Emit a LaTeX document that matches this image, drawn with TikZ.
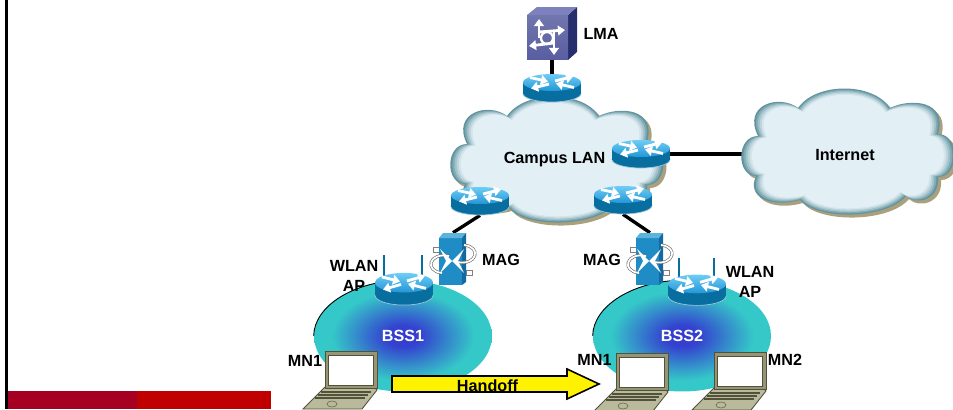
\documentclass[tikz,border=0pt]{standalone}
\usepackage{fontspec}
\setmainfont{Liberation Sans}
\usetikzlibrary{arrows.meta, calc, positioning, shapes.geometric, backgrounds}
\definecolor{barleft}{RGB}{165,0,33}
\definecolor{barright}{RGB}{192,0,0}
\definecolor{cloudedge}{RGB}{98,148,160}
\definecolor{cloudpale}{RGB}{226,239,245}
\definecolor{cloudshadow}{RGB}{170,160,125}
\definecolor{routertop}{RGB}{35,150,215}
\definecolor{routerrim}{RGB}{110,205,245}
\definecolor{routerside}{RGB}{8,110,160}
\definecolor{magfront}{RGB}{32,140,198}
\definecolor{magside}{RGB}{22,105,160}
\definecolor{magtop}{RGB}{90,180,220}
\definecolor{lmafront}{RGB}{88,94,160}
\definecolor{lmatop}{RGB}{125,130,190}
\definecolor{lmaside}{RGB}{38,46,110}
\definecolor{bsscentre}{RGB}{52,56,208}
\definecolor{bssedge}{RGB}{53,200,200}
\definecolor{lapframe}{RGB}{150,150,118}
\definecolor{lapdark}{RGB}{82,82,58}
\definecolor{lapbase}{RGB}{185,185,155}
\pgfdeclareradialshading{bssglow}{\pgfpointorigin}{color(0bp)=(bsscentre); color(5bp)=(bsscentre!92!bssedge); color(20bp)=(bssedge); color(50bp)=(bssedge)}
\newcommand{\cloudlobes}{(-92,24) .. controls (-112,24) and (-112,-16) .. (-90,-16)
    .. controls (-106,-48) and (-68,-58) .. (-50,-44)
    .. controls (-32,-70) and (25,-70) .. (42,-44)
    .. controls (62,-54) and (100,-52) .. (90,-18)
    .. controls (112,-18) and (112,25) .. (90,25)
    .. controls (92,48) and (68,54) .. (58,44)
    .. controls (38,68) and (-32,68) .. (-48,48)
    .. controls (-76,56) and (-102,46) .. (-92,24) -- cycle}
\tikzset{
    txt/.style={font=\fontsize{9.2}{11.3}\selectfont\bfseries, inner sep=0pt, align=center},
    wire/.style={line width=1.9pt, black},
    whitearrow/.style={white, line width=1.6pt, -{Triangle[length=4pt, width=5.5pt]}},
    hubnode/.style={minimum width=1.16cm, minimum height=0.56cm, inner sep=0pt},
    bsscell/.style={ellipse, shading=bssglow, minimum width=3.56cm, minimum height=2.22cm, inner sep=0pt, white, font=\fontsize{9.2}{11}\selectfont\bfseries},
    pics/cloudblob/.style={code={
        \fill[cloudshadow, shift={(3,3)}] \cloudlobes;
        \foreach \s/\m in {1/100, 0.98/75, 0.96/50, 0.94/30, 0.92/12} {
            \begin{scope}[scale=\s]
                \fill[cloudedge!\m!cloudpale] \cloudlobes;
            \end{scope}
        }
        \begin{scope}[scale=0.9]
            \shade[left color=cloudpale, middle color=white, right color=cloudpale] \cloudlobes;
        \end{scope}
    }},
    pics/router/.style={code={
        \fill[routerside, draw=white!60!routerside, line width=0.4pt] (0,5.5) ellipse [x radius=29, y radius=8.5];
        \fill[routerside] (-29,-5.5) rectangle (29,5.5);
        \shade[top color=routerrim, bottom color=routertop] (0,-5.5) ellipse [x radius=29, y radius=8.5];
        % Crossing arrows
        \draw[whitearrow] (-22,-10.5) -- (-4,-6.5);
        \draw[whitearrow] (22,-0.5) -- (4,-4.5);
        \draw[whitearrow] (3,-7) -- (21,-11.5);
        \draw[whitearrow] (-3,-4) -- (-21,0.5);
        \node[hubnode] (-hub) at (0,0) {};
    }},
    pics/magbox/.style={code={
        % Tabs
        \draw[gray, fill=white, line width=0.4pt] (-20,-12) rectangle (-14,-7);
        \draw[gray, fill=white, line width=0.4pt] (13,11) rectangle (19,16);
        % Box
        \fill[magfront] (-14,-21) rectangle (9,26);
        \fill[magtop] (-14,-21) -- (-10,-26) -- (13,-26) -- (9,-21) -- cycle;
        \fill[magside] (9,-21) -- (13,-26) -- (13,23) -- (9,26) -- cycle;
        % Swirl
        \draw[gray!80!black, double=white, double distance=1pt, line width=0.35pt] (-4,-3) .. controls (-24,-7) and (-29,12) .. (-11,14);
        \draw[gray!80!black, double=white, double distance=1pt, line width=0.35pt] (4,3) .. controls (24,7) and (29,-12) .. (11,-14);
        \fill[white] (-13,-10) -- (-1,2) -- (-13,14) -- (-7,2) -- cycle;
        \fill[white] (11,-10) -- (-1,2) -- (11,14) -- (5,2) -- cycle;
    }},
    pics/laptop/.style={code={
        % Base
        \fill[lapbase, draw=lapdark, line width=0.5pt] (1,37) -- (50,37) -- (53,40) -- (38,59) -- (-21,59) -- cycle;
        \draw[lapdark, line width=0.8pt] (-3,42) -- (47,42);
        \draw[lapdark, line width=0.8pt] (-6,45) -- (44,45);
        \draw[lapdark, line width=0.8pt] (-9,48) -- (41,48);
        \draw[lapdark!70!lapbase, line width=0.4pt] (8,54) ellipse [x radius=5, y radius=3];
        % Screen
        \fill[lapframe, draw=lapdark, line width=0.5pt] (1,1) -- (53,1) -- (53,38) -- (1,38) -- cycle;
        \fill[white, draw=lapdark, line width=0.4pt] (4,5) rectangle (49,35);
    }}
}
\begin{document}
\begin{tikzpicture}[x=0.02cm, y=-0.02cm, >=Stealth]
    \useasboundingbox (0,0) rectangle (953,409);
    \clip (0,0) rectangle (953,409);

    % Slide frame
    \fill[black] (5,0) rectangle (8,409);
    \fill[barleft] (8,391) rectangle (137,409);
    \fill[barright] (137,391) rectangle (271,409);

    % Clouds
    \pic at (557,160) {cloudblob};
    \pic at (848,152) {cloudblob};
    \node[txt, minimum width=1.6cm] (campus) at (554.5,160) {Campus LAN};
    \node[txt, minimum width=4.12cm] (internet) at (845,155) {Internet};

    % LMA
    \fill[lmaside] (568,15) -- (577,7) -- (577,52) -- (568,60) -- cycle;
    \fill[lmatop] (527,15) -- (537,7) -- (577,7) -- (568,15) -- cycle;
    \shade[top color=lmafront!85!white, bottom color=lmafront] (527,15) rectangle (568,59);
    \draw[whitearrow] (539,38) -- (539,19);
    \draw[whitearrow] (539,32) -- (565,30);
    \draw[whitearrow] (554,43) -- (529,46);
    \draw[whitearrow] (554,32) -- (554,55);
    \draw[white, line width=1.3pt] (547,38) circle [radius=6];
    \node[minimum width=1cm, minimum height=1.06cm, inner sep=0pt] (lma) at (552,33.5) {};
    \node[txt] (lmatxt) at (601,34) {LMA};

    % Routers
    \pic (rtop) at (552,88) {router};
    \pic (rnet) at (641,154) {router};
    \pic (rleft) at (480,201) {router};
    \pic (rright) at (623,200) {router};

    % Wireless cells
    \node[bsscell] (bss1) at (403,336) {BSS1};
    \node[bsscell] (bss2) at (682,336) {BSS2};
    \draw[black, line width=0.5pt] (bss1.west) .. controls (314,306) and (354,281) .. (bss1.north);
    \draw[black, line width=0.5pt] (bss2.west) .. controls (593,306) and (633,281) .. (bss2.north);

    % Access points
    \draw[routerside, line width=1.2pt] (384,255) -- (384,277);
    \draw[routerside, line width=1.2pt] (422,255) -- (422,277);
    \draw[routerside, line width=1.2pt] (679,258) -- (679,277);
    \draw[routerside, line width=1.2pt] (714,258) -- (714,277);
    \pic[yscale=1.15] (ap1) at (404,289) {router};
    \pic[yscale=1.1] (ap2) at (697,290) {router};

    % MAGs
    \pic at (453,259) {magbox};
    \pic at (650,259) {magbox};
    \node[minimum width=0.54cm, minimum height=1.04cm, inner sep=0pt] (mag1) at (453,259) {};
    \node[minimum width=0.54cm, minimum height=1.04cm, inner sep=0pt] (mag2) at (650,259) {};

    % Links
    \begin{scope}[on background layer]
        \draw[wire] (lma) -- (rtop-hub);
        \draw[wire] (rnet-hub.east) -- (rnet-hub.east -| internet.west);
        \draw[wire] (rleft-hub.south) -- (mag1.north);
        \draw[wire] (rright-hub.south) -- (mag2.north);
    \end{scope}

    % Mobile nodes
    \pic at (324,350) {laptop};
    \pic at (615,352) {laptop};
    \pic at (713,351) {laptop};

    % Handoff
    \draw[line width=0.9pt, fill=yellow] (392,376) -- (567,376) -- (567,369) -- (599,384) -- (567,399) -- (567,392) -- (392,392) -- cycle;
    \node[txt] (handoff) at (487.5,386) {Handoff};

    % Labels
    \node[txt] (wlan1) at (354,276) {WLAN\\AP};
    \node[txt] (wlan2) at (750,282) {WLAN\\AP};
    \node[txt] (magtxt1) at (501,260) {MAG};
    \node[txt] (magtxt2) at (602,260) {MAG};
    \node[txt] (mn1) at (305,361) {MN1};
    \node[txt] (mn2) at (594.5,360) {MN1};
    \node[txt] (mn3) at (785,360) {MN2};
\end{tikzpicture}
\end{document}
